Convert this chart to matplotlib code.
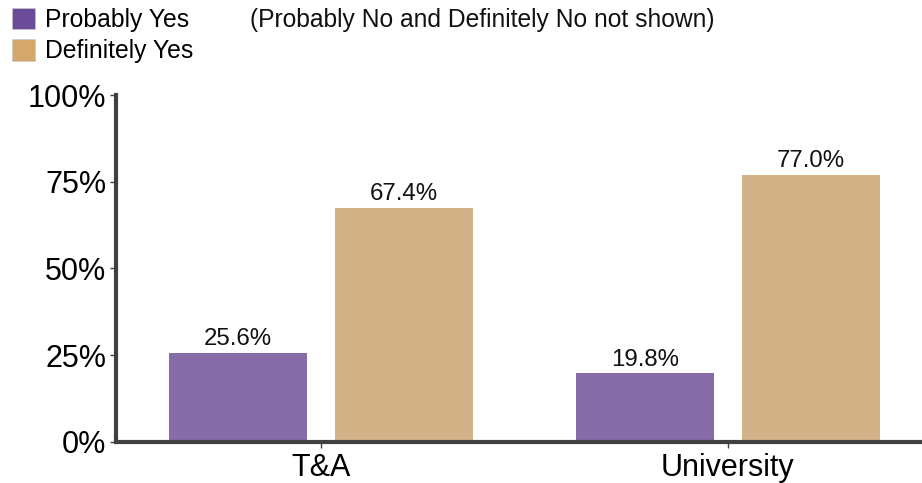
import numpy as np
import matplotlib.pyplot as plt
from matplotlib.patches import Patch

plt.rcParams["font.family"] = ["Liberation Sans", "DejaVu Sans"]

categories = ["T&A", "University"]
probably_yes = [25.6, 19.8]
definitely_yes = [67.4, 77.0]
series_names = ["Probably Yes", "Definitely Yes"]
yticks = [0, 25, 50, 75, 100]

bar_colors = ["#866ca8", "#d4b287"]
legend_colors = ["#6b4c9a", "#d4a76a"]
axis_color = "#404040"

fig = plt.figure(figsize=(9.22, 4.83), dpi=100)
ax = fig.add_axes([0.1258, 0.0849, 0.8742, 0.7184])

x = np.arange(len(categories))
width = 0.339
offset = 0.204

b1 = ax.bar(x - offset, probably_yes, width, color=bar_colors[0])
b2 = ax.bar(x + offset, definitely_yes, width, color=bar_colors[1])

for bars, vals in ((b1, probably_yes), (b2, definitely_yes)):
    for rect, v in zip(bars, vals):
        ax.text(rect.get_x() + rect.get_width() / 2, v + 0.8, f"{v:.1f}%",
                ha="center", va="bottom", fontsize=17.3, color="#111111")

ax.set_xlim(-0.504, 1.477)
ax.set_ylim(0, 100)
ax.set_xticks(x)
ax.set_xticklabels(categories, fontsize=22)
ax.set_yticks(yticks)
ax.set_yticklabels([f"{t}%" for t in yticks], fontsize=22)

for side in ("top", "right"):
    ax.spines[side].set_visible(False)
for side in ("left", "bottom"):
    ax.spines[side].set_color(axis_color)
    ax.spines[side].set_linewidth(3)
ax.tick_params(axis="y", length=4, width=1, color=axis_color, pad=3)
ax.tick_params(axis="x", length=4, width=1, color=axis_color, pad=4)

handles = [Patch(facecolor=c, edgecolor="#c8c8c8", linewidth=0.5) for c in legend_colors]
fig.legend(handles, series_names, loc="upper left", bbox_to_anchor=(-0.006, 1.019),
           frameon=False, fontsize=17.8, handlelength=0.95, handleheight=0.95,
           handletextpad=0.4, labelspacing=0.28, borderaxespad=0.3)
fig.text(0.271, 0.958, "(Probably No and Definitely No not shown)",
         fontsize=17.7, ha="left", va="center", color="#111111")

fig.savefig("out.png", dpi=100)
